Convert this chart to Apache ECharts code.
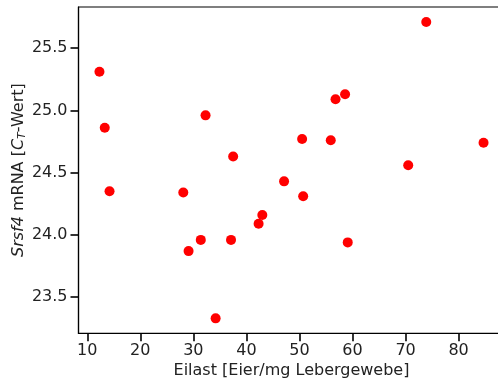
<!DOCTYPE html>
<html>
<head>
<meta charset="utf-8">
<title>Srsf4 vs Eilast</title>
<script src="https://cdn.jsdelivr.net/npm/echarts@6/dist/echarts.min.js"></script>
<style>
  html, body { margin: 0; padding: 0; background: #fff; }
  #main { width: 498px; height: 383px; }
</style>
</head>
<body>
<div id="main"></div>
<script type="text/javascript">
// Eilast (Eier/mg Lebergewebe) und Srsf4 CT-Wert
var eilast = [12.3, 13.3, 14.2, 28.1, 32.3, 29.1, 31.4, 37.1, 37.5, 34.2, 42.3,
              43.0, 47.1, 50.5, 50.7, 55.9, 56.8, 58.6, 59.1, 70.5, 73.9, 84.7];
var ctWert = [25.31, 24.86, 24.35, 24.34, 24.96, 23.87, 23.96, 23.96, 24.63, 23.33, 24.09,
              24.16, 24.43, 24.77, 24.31, 24.76, 25.09, 25.13, 23.94, 24.56, 25.71, 24.74];
var xTicks = [10, 20, 30, 40, 50, 60, 70, 80];
var yTicks = [23.5, 24.0, 24.5, 25.0, 25.5];

var points = eilast.map(function (x, i) { return [x, ctWert[i]]; });

var myChart = echarts.init(document.getElementById('main'));
var font = 'DejaVu Sans';
var option = {
    animation: false,
    grid: {
        left: 78.5, top: 7, height: 326.3, width: 426,   // rechter Rand liegt außerhalb des Bildes
        outerBoundsMode: 'none',
        show: true, borderColor: '#000', borderWidth: 1.2
    },
    xAxis: {
        type: 'value',
        min: 8.35, max: 88.65,
        name: 'Eilast [Eier/mg Lebergewebe]',
        nameLocation: 'middle',
        nameGap: 30,
        nameMoveOverlap: false,
        nameTextStyle: { fontFamily: font, fontSize: 16, color: '#222' },
        splitLine: { show: false },
        axisLine: { lineStyle: { color: '#000', width: 1.2 } },
        axisTick: { customValues: xTicks, length: 8, lineStyle: { color: '#000', width: 1.6 } },
        axisLabel: {
            customValues: xTicks, fontFamily: font, fontSize: 16, color: '#222', margin: 10
        }
    },
    yAxis: {
        type: 'value',
        min: 23.21, max: 25.83,
        name: '{i|Srsf4} mRNA [{i|C}{sub|T}-Wert]',
        nameLocation: 'middle',
        nameGap: 51,
        nameMoveOverlap: false,
        nameTextStyle: {
            fontFamily: font, fontSize: 16, color: '#222',
            rich: {
                i: { fontFamily: font, fontSize: 16, fontStyle: 'italic', color: '#222' },
                sub: { fontFamily: font, fontSize: 11, fontStyle: 'italic', color: '#222', verticalAlign: 'bottom', padding: [6, 0, 0, 0] }
            }
        },
        splitLine: { show: false },
        axisLine: { show: true, lineStyle: { color: '#000', width: 1.2 } },
        axisTick: { show: true, customValues: yTicks, length: 8, lineStyle: { color: '#000', width: 1.6 } },
        axisLabel: {
            customValues: yTicks, fontFamily: font, fontSize: 16, color: '#222', margin: 11,
            formatter: function (v) { return v.toFixed(1); }
        }
    },
    series: [{
        type: 'scatter',
        data: points,
        symbolSize: 10,
        itemStyle: { color: '#ff0000', opacity: 1 }
    }]
};
myChart.setOption(option);
</script>
</body>
</html>
